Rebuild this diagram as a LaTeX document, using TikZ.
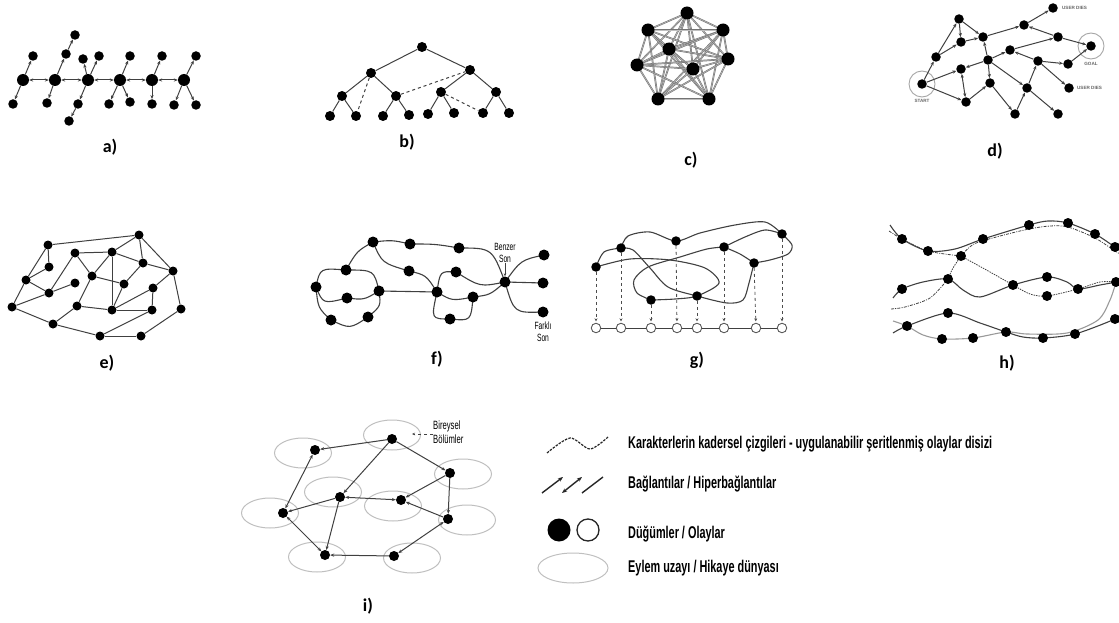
\documentclass[tikz,border=0pt]{standalone}
\usepackage{fontspec}
\setmainfont{Liberation Sans}
\newfontfamily\narrowfont[FakeStretch=0.64]{Liberation Sans}
\newfontfamily\capfont{Carlito}
\usetikzlibrary{arrows.meta, backgrounds, shapes.geometric, positioning}
\tikzset{
  dot/.style={circle, fill=black, inner sep=0pt, minimum size=9.5pt},
  bigdot/.style={dot, minimum size=12pt},
  hollow/.style={circle, draw=black!65, fill=white, line width=0.9pt, inner sep=0pt, minimum size=9.5pt},
  link/.style={draw=black!75, line width=1pt},
  arrow/.style={link, -{Stealth[length=4pt,width=3.2pt]}},
  twoway/.style={link, {Stealth[length=4pt,width=3.2pt]}-{Stealth[length=4pt,width=3.2pt]}},
  mesh/.style={draw=black!55, line width=0.6pt, double=black!25, double distance=0.5pt},
  fate/.style={draw=black!75, line width=1.1pt},
  drop/.style={draw=black!70, line width=0.8pt, dashed, -{Stealth[length=3pt,width=3pt]}, shorten >=1.5pt},
  world/.style={ellipse, draw=black!25, line width=1pt, minimum width=57pt, minimum height=30pt},
  ring/.style={circle, draw=black!35, line width=0.9pt, minimum size=26pt},
  caption/.style={font=\capfont\bfseries\fontsize{18}{20}\selectfont, anchor=base},
  legend/.style={font=\narrowfont\bfseries\fontsize{17}{19}\selectfont, anchor=base west, inner sep=0pt},
  tag/.style={font=\narrowfont\fontsize{10.5}{12}\selectfont, align=center, inner sep=0pt},
  smalltag/.style={font=\bfseries\fontsize{4.6}{5}\selectfont, text=black!60, inner sep=0pt},
  sample/.style={draw=black!85, line width=1.4pt}
}
\begin{document}
\begin{tikzpicture}[x=1pt, y=-1pt]
\useasboundingbox (0,0) rectangle (1119,623);

% a) chain with side branches
\foreach \n/\x in {aS1/23, aS2/55, aS3/88, aS4/120, aS5/152, aS6/184}
  \node[bigdot] (\n) at (\x,80) {};
\foreach \n/\x/\y in {a1/33/56, a2/13/104, a3/66/54, a4/75/35, a5/47/103, a6/83/59, a7/99/56,
    a8/78/104, a9/69/121, a10/130/56, a11/109/104, a12/130/102, a13/162/56, a14/152/104,
    a15/196/56, a16/174/105, a17/196/105}
  \node[dot] (\n) at (\x,\y) {};
\foreach \a/\b in {aS1/aS2, aS2/aS3, aS3/aS4, aS4/aS5, aS5/aS6}
  \draw[twoway] (\a) -- (\b);
\foreach \a/\b in {aS1/a1, aS1/a2, aS2/a3, a3/a4, aS2/a5, aS3/a6, aS3/a7, aS3/a8, a8/a9,
    aS4/a10, aS4/a11, aS4/a12, aS5/a13, aS5/a14, aS6/a15, aS6/a16, aS6/a17}
  \draw[arrow] (\a) -- (\b);
\node[caption] (capA) at (110,153) {a)};

% b) tree
\foreach \n/\x/\y in {b0/422/47, b1/371/73, b2/470/70, b3/342/96, b4/396/96, b5/441/92, b6/496/92,
    b7/330/116, b8/356/116, b9/383/116, b10/409/115, b11/428/114, b12/454/113, b13/483/113, b14/509/113}
  \node[dot, minimum size=10pt] (\n) at (\x,\y) {};
\foreach \a/\b in {b0/b1, b0/b2, b1/b3, b1/b4, b2/b5, b2/b6, b3/b7, b3/b8, b4/b9, b4/b10,
    b5/b11, b5/b12, b6/b13, b6/b14}
  \draw[link] (\a) -- (\b);
\foreach \a/\b in {b1/b8, b4/b2, b5/b13}
  \draw[link, dashed] (\a) -- (\b);
\node[caption] (capB) at (407,148) {b)};

% c) complete graph
\foreach \n/\x/\y in {c1/687/13, c2/648/30, c3/723/30, c4/669/49, c5/637/65, c6/728/59,
    c7/693/69, c8/658/99, c9/709/99}
  \node[dot, minimum size=13pt] (\n) at (\x,\y) {};
\begin{scope}[on background layer]
\foreach \i in {1,...,8}{
  \pgfmathtruncatemacro{\k}{\i+1}
  \foreach \j in {\k,...,9}
    \draw[mesh] (c\i.center) -- (c\j.center);
}
\end{scope}
\node[caption] (capC) at (691,165) {c)};

% d) start to goal
\foreach \n/\x/\y in {dS/922/84, d1/936/57, d2/959/19, d3/961/42, d4/983/37, d5/961/69, d6/966/102,
    d7/988/60, d8/990/83, d9/1024/25, d10/1053/8, d11/1058/37, d12/1010/50, d13/1038/61,
    d14/1068/64, dG/1091/46, d15/1069/88, d16/1027/88, d17/1015/114, d18/1058/114}
  \node[dot] (\n) at (\x,\y) {};
\node[ring] (startring) at (dS) {};
\node[ring] (goalring) at (dG) {};
\node[smalltag, below=2pt of startring] {START};
\node[smalltag, below=2.5pt of goalring] {GOAL};
\node[smalltag, right=4pt of d10] {USER DIES};
\node[smalltag, right=3pt of d15] {USER DIES};
\foreach \a/\b in {dS/d1, dS/d5, dS/d6, d1/d2, d1/d3, d2/d3, d2/d4, d3/d4, d4/d9, d9/d10,
    d11/d9, d7/d4, d7/d5, d6/d8, d7/d8, d7/d12, d12/d11, d7/d16, d8/d17, d17/d16, d16/d13,
    d16/d18, d13/d12, d13/d14, d13/d15, d14/dG, d11/dG}
  \draw[arrow] (\a) -- (\b);
\draw[twoway] (d5) -- (d6);
\node[caption] (capD) at (995,157) {d)};

% e) network
\foreach \n/\x/\y in {e1/48/245, e2/139/235, e3/75/253, e4/112/252, e5/49/267, e6/143/263,
    e7/173/271, e8/26/280, e9/92/276, e10/75/283, e11/124/284, e12/153/288, e13/49/293,
    e14/12/307, e15/77/306, e16/112/310, e17/152/310, e18/181/309, e19/53/324, e20/100/336,
    e21/141/336}
  \node[dot, minimum size=9pt] (\n) at (\x,\y) {};
\foreach \a/\b in {e1/e2, e1/e5, e1/e8, e5/e8, e8/e13, e8/e14, e13/e10, e13/e14, e3/e4, e3/e9,
    e3/e13, e4/e9, e4/e2, e4/e6, e4/e16, e2/e6, e2/e7, e6/e7, e6/e11, e9/e11, e9/e15, e11/e16,
    e15/e16, e15/e19, e16/e17, e16/e12, e12/e17, e12/e7, e7/e18, e14/e19, e19/e20, e20/e21,
    e21/e18, e20/e17}
  \draw[link] (\a) -- (\b);
\node[caption] (capE) at (107,368) {e)};

% f) branching and merging
\foreach \n/\x/\y in {f1/316/287, f2/346/270, f3/347/298, f4/331/320, f5/368/317, f6/379/291,
    f7/373/242, f8/410/244, f9/459/248, f10/409/271, f11/437/292, f12/456/272, f13/473/297,
    f14/450/319, f15/505/282, f16/544/255, f17/543/283, f18/543/312}
  \node[dot, minimum size=11pt] (\n) at (\x,\y) {};
\begin{scope}[on background layer]
\foreach \a/\b/\cx/\cy in {f1/f2/320/268, f1/f3/323/304, f1/f4/318/308, f2/f6/374/270,
    f3/f6/364/300, f4/f5/350/329, f5/f6/381/306, f2/f7/357/251, f7/f8/392/240, f8/f9/435/244,
    f9/f15/492/248, f7/f10/382/263, f10/f11/426/275, f6/f11/408/291, f11/f12/440/271,
    f12/f15/480/287, f11/f13/452/301, f13/f15/490/295, f11/f14/431/319, f14/f13/471/321,
    f15/f16/521/260, f15/f17/524/283, f15/f18/514/313}
  \draw[fate] (\a.center) .. controls (\cx,\cy) .. (\b.center);
\end{scope}
\node[tag, above=13pt of f15] (same) {Benzer\\Son};
\draw[link, line width=0.6pt, -{Stealth[length=3pt,width=2.5pt]}] (same) -- (f15);
\node[tag, below=4pt of f18] (other) {Farklı\\Son};
\node[caption] (capF) at (437,364) {f)};

% g) story graph projected onto a line
\foreach \n/\x/\y in {gA/596/267, gB/621/248, gC/676/241, gD/724/247, gE/754/263, gF/782/234,
    gG/651/300, gH/697/296}
  \node[dot] (\n) at (\x,\y) {};
\foreach \n/\x in {g1/596, g2/621, g3/651, g4/677, g5/697, g6/724, g7/756, g8/782}
  \node[hollow] (\n) at (\x,328) {};
\begin{scope}[on background layer]
\draw[fate] plot[smooth] coordinates {(gA.center) (604,252) (gB.center)};
\draw[fate] plot[smooth] coordinates {(gB.center) (628,236) (650,232) (gC.center) (700,233)
  (735,225) (765,222) (gF.center)};
\draw[fate] plot[smooth] coordinates {(gA.center) (630,259) (670,260) (705,268) (719,283)
  (gH.center) (675,299) (gG.center)};
\draw[fate] plot[smooth] coordinates {(gB.center) (633,250) (650,268) (668,287) (gH.center)
  (727,303) (743,300) (749,283) (gE.center)};
\draw[fate] plot[smooth] coordinates {(gG.center) (637,293) (634,280) (648,267) (680,257)
  (707,249) (gD.center)};
\draw[fate] plot[smooth] coordinates {(gD.center) (740,254) (gE.center)};
\draw[fate] plot[smooth] coordinates {(gD.center) (745,237) (765,230) (gF.center)};
\draw[fate] plot[smooth] coordinates {(gF.center) (792,245) (788,254) (770,260) (gE.center)};
\end{scope}
\foreach \a/\b in {gA/g1, gB/g2, gG/g3, gC/g4, gH/g5, gD/g6, gE/g7, gF/g8}
  \draw[drop] (\a) -- (\b);
\draw[link] (g1) -- (g2) -- (g3) -- (g4) -- (g5) -- (g6) -- (g7) -- (g8);
\node[caption] (capG) at (697,365) {g)};

% h) interwoven strands
\foreach \n/\x/\y in {hT1/902/239, hT2/928/251, hT3/983/239, hT4/1029/225, hT5/1068/223,
    hT6/1095/234, hT7/1115/247, hX/961/256, hM1/902/289, hM2/948/279, hM3/1013/285,
    hM4/1047/277, hM5/1047/296, hM6/1078/289, hM7/1116/282, hB1/907/326, hB2/948/313,
    hB3/942/339, hB4/973/338, hB5/1006/332, hB6/1043/338, hB7/1075/334, hB8/1115/319}
  \node[dot, minimum size=10pt] (\n) at (\x,\y) {};
\begin{scope}[on background layer]
\draw[fate] plot[smooth] coordinates {(890,225) (hT1.center) (hT2.center) (955,249)
  (hT3.center) (hT4.center) (1048,221) (hT5.center) (hT6.center) (hT7.center) (1125,252)};
\draw[fate, line width=0.8pt, dash pattern=on 3pt off 1.2pt on 1pt off 1.2pt] plot[smooth]
  coordinates {(889,231) (hT1.center) (hT2.center) (hX.center)};
\draw[fate, line width=0.8pt, dash pattern=on 3pt off 1.2pt on 1pt off 1.2pt] plot[smooth]
  coordinates {(hX.center) (974,244) (1000,236) (1029,229) (1050,226) (1068,227) (1095,238)
  (1115,251) (1125,257)};
\draw[fate, line width=0.8pt, dash pattern=on 1.5pt off 1pt] plot[smooth]
  coordinates {(hX.center) (990,272) (hM3.center) (1030,294) (hM5.center) (hM6.center)
  (1100,282) (hM7.center)};
\draw[fate, line width=0.8pt, dash pattern=on 1.5pt off 1pt] plot[smooth]
  coordinates {(hX.center) (953,268) (hM2.center)};
\draw[fate, line width=0.8pt, dash pattern=on 3pt off 1.2pt on 1pt off 1.2pt] plot[smooth]
  coordinates {(hM2.center) (930,298) (905,307) (891,309)};
\draw[fate] plot[smooth] coordinates {(893,298) (hM1.center) (923,282) (hM2.center)
  (963,290) (980,297) (hM3.center) (hM4.center) (1067,282) (hM6.center) (1100,285)
  (hM7.center) (1125,279)};
\draw[fate] plot[smooth] coordinates {(893,333) (hB1.center) (hB2.center) (980,323)
  (hB5.center) (1023,337) (hB6.center) (hB7.center) (hB8.center) (1125,312)};
\draw[fate, draw=black!40] plot[smooth] coordinates {(893,321) (hB1.center) (923,335)
  (hB3.center) (hB4.center) (hB5.center) (1027,334) (1067,333) (1098,320) (1110,300)
  (hM7.center)};
\end{scope}
\node[caption] (capH) at (1007,368) {h)};

% i) episodes in story worlds
\foreach \n/\x/\y in {iW1/392/435, iW2/303/453, iW3/463/474, iW4/333/492, iW5/393/506,
    iW6/270/513, iW7/467/520, iW8/317/557, iW9/412/558}
  \node[world] (\n) at (\x,\y) {};
\foreach \n/\x/\y in {i1/392/439, i2/315/450, i3/450/473, i4/340/497, i5/401/500, i6/283/513,
    i7/448/519, i8/325/555, i9/394/556}
  \node[dot, minimum size=10pt] (\n) at (\x,\y) {};
\foreach \a/\b in {i1/i2, i1/i3, i1/i4, i4/i6, i3/i5, i3/i7, i7/i5, i4/i8, i9/i8}
  \draw[arrow] (\a) -- (\b);
\foreach \a/\b in {i2/i6, i4/i5, i6/i8, i7/i9}
  \draw[twoway] (\a) -- (\b);
\node[tag, font=\narrowfont\fontsize{12}{13.5}\selectfont, align=left, anchor=west] (indiv)
  at (433,432) {Bireysel\\Bölümler};
\coordinate (iW1edge) at (412,434);
\draw[link, line width=0.6pt, dashed, -{Stealth[length=3pt,width=2.5pt]}] (indiv.west |- iW1edge) -- (iW1edge);
\node[caption] (capI) at (368,611) {i)};

% legend
\draw[sample, line width=1.2pt, dash pattern=on 2.5pt off 1.2pt] plot[smooth]
  coordinates {(547,453) (570,438) (590,449) (608,437)};
\node[legend] (keyFate) at (628,448) {Karakterlerin kadersel çizgileri - uygulanabilir şeritlenmiş olaylar disizi};
\coordinate (k1a) at (542,493); \coordinate (k1b) at (563,477);
\coordinate (k2a) at (562,493); \coordinate (k2b) at (582,477);
\coordinate (k3a) at (582,493); \coordinate (k3b) at (603,477);
\draw[sample, -{Stealth[length=5pt,width=4pt]}] (k1a) -- (k1b);
\draw[sample, {Stealth[length=5pt,width=4pt]}-{Stealth[length=5pt,width=4pt]}] (k2a) -- (k2b);
\draw[sample] (k3a) -- (k3b);
\node[legend] (keyLink) at (628,488) {Bağlantılar / Hiperbağlantılar};
\node[dot, minimum size=23pt] (keyFull) at (559,530) {};
\node[hollow, minimum size=22pt, line width=1.3pt, draw=black!85] (keyOpen) at (588,530) {};
\node[legend] (keyNode) at (628,538) {Düğümler / Olaylar};
\node[world, minimum width=70pt, minimum height=30pt] (keyWorld) at (573,568) {};
\node[legend] (keySpace) at (628,572) {Eylem uzayı / Hikaye dünyası};
\end{tikzpicture}
\end{document}
